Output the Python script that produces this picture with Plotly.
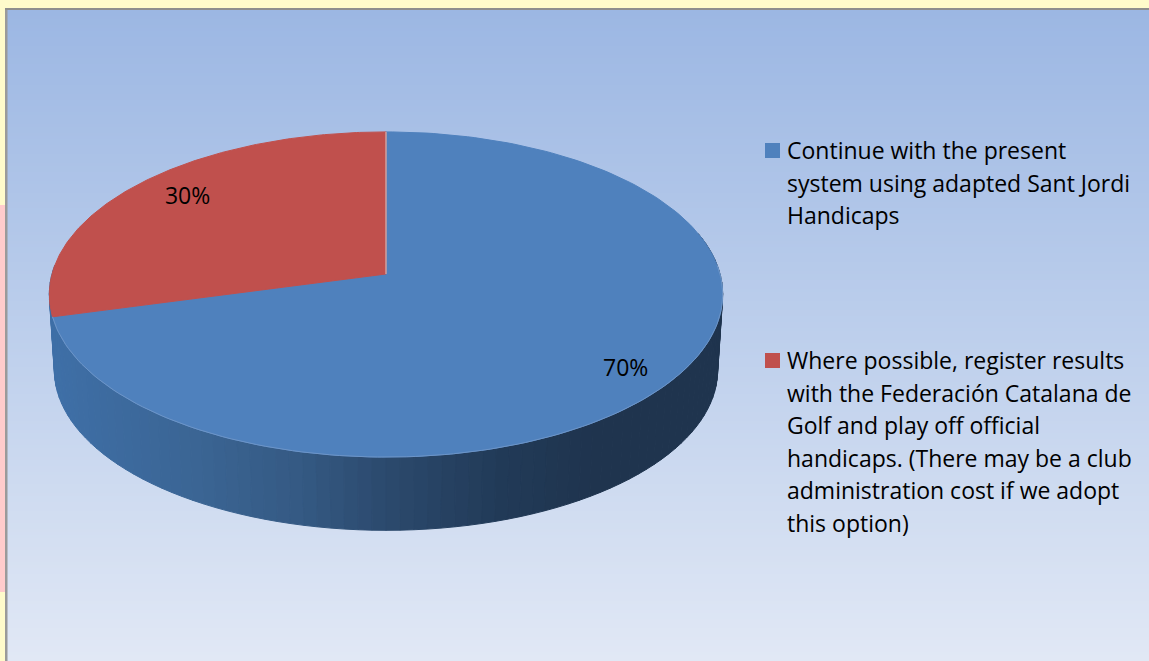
import math
import numpy as np
import plotly.graph_objects as go

# ---- data ----
categories = ["Continue with the present system using adapted Sant Jordi Handicaps",
              "Where possible, register results with the Federación Catalana de Golf and play off official handicaps. (There may be a club administration cost if we adopt this option)"]
values = [70, 30]
legend_lines = [["Continue with the present", "system using adapted Sant Jordi", "Handicaps"],
                ["Where possible, register results", "with the Federación Catalana de", "Golf and play off official",
                 "handicaps. (There may be a club", "administration cost if we adopt", "this option)"]]
slice_colors = ["#4F81BD", "#C0504D"]

W, H = 1149, 661
FONT = "Open Sans"
FS = 23
CX, CY, RX, KY, P = 386, 274, 334, 160, 0.126


def proj(t, r=1.0, cy=CY, scale=1.0):
    """Perspective projection of a point on the pie disc; t = clockwise degrees from 12 o'clock."""
    t = np.asarray(t, dtype=float)
    a = np.radians(t - 3.15 * np.sin(np.radians(t)))
    u, v = r * np.sin(a), -r * np.cos(a)
    s = scale / (1 - P * v)
    return CX + RX * u * s, cy + KY * v * s


def lerp_color(stops, x):
    xs = [s[0] for s in stops]
    rgb = [int(np.interp(x, xs, [int(s[1][i:i + 2], 16) for s in stops])) for i in (1, 3, 5)]
    return "rgb(%d,%d,%d)" % tuple(rgb)


fig = go.Figure()

# panel gradient (row and column edges, one column of rows)
row_edges = np.arange(10, 664, 3)
fig.add_trace(go.Heatmap(x=[7, W + 1], y=row_edges, z=[[float(r)] for r in row_edges[:-1]],
                         colorscale=[[0, "#9CB7E3"], [0.5, "#BDCFEC"], [1, "#E1E8F5"]],
                         showscale=False, hoverinfo="skip"))

# side wall of the pie, front half
wall_stops = [(50, "#3F70A8"), (200, "#3B6594"), (300, "#355A84"), (386, "#2C4A6E"),
              (500, "#223B58"), (600, "#1F344E"), (725, "#1F344E")]
boundary = values[0] / sum(values) * 360
edges = np.arange(270, 76, -2.0)
for a, b in zip(edges[:-1], edges[1:]):
    ts = np.array([a, b])
    x1, y1 = proj(ts)
    x2, y2 = proj(ts[::-1], cy=CY + 76, scale=0.985)
    mid = (x1.mean() + x2.mean()) / 2
    c = lerp_color(wall_stops, mid)
    fig.add_trace(go.Scatter(x=np.r_[x1, x2, x1[0]], y=np.r_[y1, y2, y1[0]], mode="lines", fill="toself",
                             fillcolor=c, line=dict(color=c, width=1), hoverinfo="skip", showlegend=False))

# top face slices
start = 0.0
label_x, label_y, label_text = [], [], []
for val, col in zip(values, slice_colors):
    sweep = val / sum(values) * 360
    ts = np.linspace(start, start + sweep, 181)
    x, y = proj(ts)
    fig.add_trace(go.Scatter(x=np.r_[CX, x, CX], y=np.r_[CY, y, CY], mode="lines", fill="toself",
                             fillcolor=col, line=dict(color=col, width=1), hoverinfo="skip", showlegend=False))
    lx, ly = proj(start + sweep / 2, r=0.81)
    label_x.append(lx + 0.5)
    label_y.append(CY + (ly - CY) * 1.13 + 10.5)
    label_text.append(f"{val}%")
    start += sweep

# rim highlight on the front edge and slice seams
ts = np.linspace(boundary, 90, 120)
x, y = proj(ts)
fig.add_trace(go.Scatter(x=x, y=y, mode="lines", line=dict(color="#6D95C8", width=1), hoverinfo="skip", showlegend=False))
bx, by = proj(np.array([0.0]))
fig.add_trace(go.Scatter(x=[CX, bx[0]], y=[CY, by[0]], mode="lines", line=dict(color="#D8C8C8", width=1), hoverinfo="skip", showlegend=False))

# value labels
fig.add_trace(go.Scatter(x=label_x, y=label_y, mode="text", text=label_text, textposition="middle center",
                         textfont=dict(family=FONT, size=FS, color="#000000"), hoverinfo="skip", showlegend=False))

# frame and legend
shapes = [
    dict(type="rect", x0=0, x1=5, y0=205, y1=592, fillcolor="#FFCCCC", line_width=0, layer="above"),
    dict(type="rect", x0=5, x1=7.5, y0=8, y1=H, fillcolor="#9A9A9A", line_width=0, layer="above"),
    dict(type="rect", x0=5, x1=W, y0=8, y1=10, fillcolor="#8E8E8E", line_width=0, layer="above"),
]
annotations = []
for lines, col, y0 in zip(legend_lines, slice_colors, [150, 360]):
    shapes.append(dict(type="rect", x0=765, x1=780, y0=y0 - 7, y1=y0 + 8, fillcolor=col, line_width=0, layer="above"))
    for i, ln in enumerate(lines):
        annotations.append(dict(x=785, y=y0 + i * 32.6, text=ln, showarrow=False, xanchor="left", yanchor="middle",
                                font=dict(family=FONT, size=FS, color="#000000"), xref="x", yref="y"))

fig.update_layout(
    width=W, height=H, margin=dict(l=0, r=0, t=0, b=0, pad=0),
    paper_bgcolor="#FFFBCB", plot_bgcolor="rgba(0,0,0,0)", showlegend=False,
    xaxis=dict(range=[0, W], visible=False, fixedrange=True),
    yaxis=dict(range=[H, 0], visible=False, fixedrange=True),
    shapes=shapes, annotations=annotations,
)
fig.write_html("out.html", config={"displayModeBar": False},
               post_script="document.body.style.margin='0';document.body.style.overflow='hidden';")
